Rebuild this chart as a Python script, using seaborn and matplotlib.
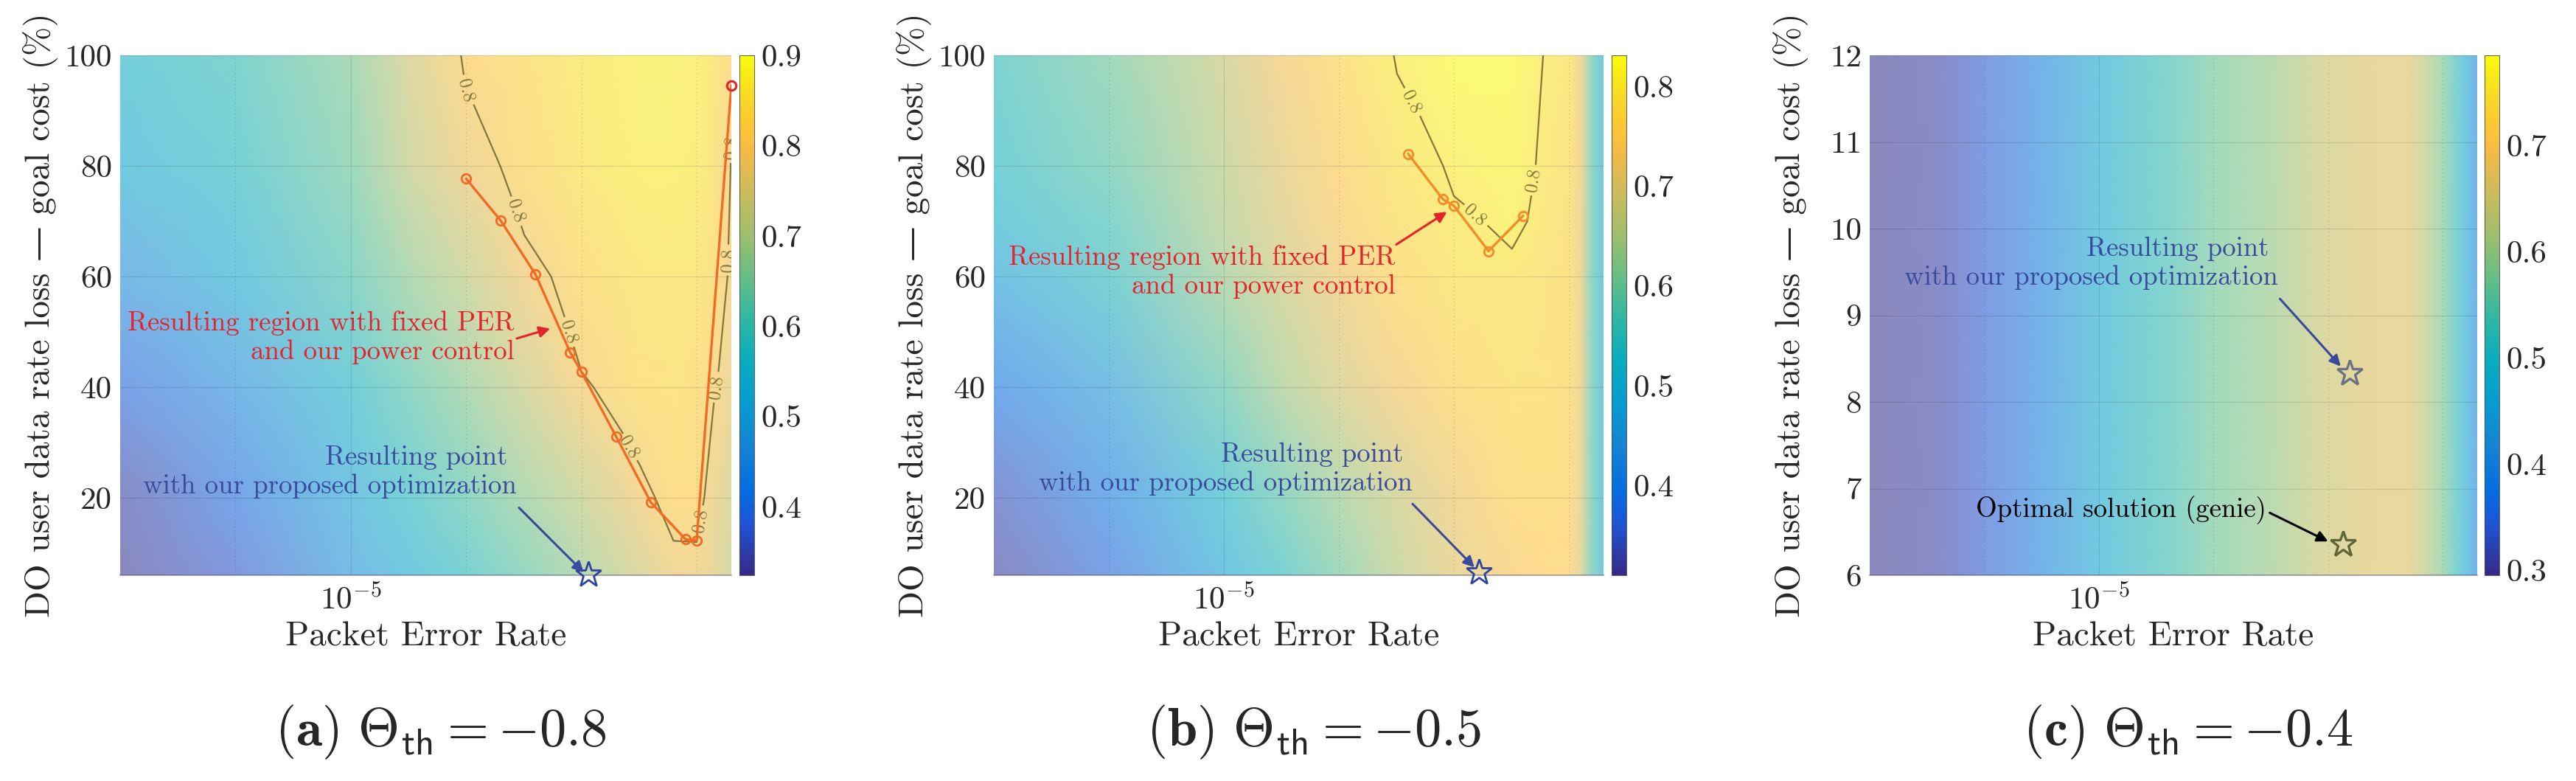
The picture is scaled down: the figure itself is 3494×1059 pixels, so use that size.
import matplotlib
matplotlib.use("Agg")
import matplotlib.pyplot as plt
import numpy as np
import seaborn as sns
from matplotlib.colors import LinearSegmentedColormap, Normalize
from matplotlib.cm import ScalarMappable
from matplotlib.ticker import FixedLocator, FixedFormatter, NullFormatter

# ---------------- data ----------------
# (a) Theta_th = -0.8 : objective value on a PER x loss grid
per_a = [1e-7, 1e-6, 1e-5, 3.2e-5, 1e-4, 3.2e-4, 1e-3, 3.2e-3, 6.3e-3, 1e-2, 1.41e-2, 2e-2]
loss_a = [6, 20, 40, 60, 80, 100]
obj_a = [
    [0.33, 0.37, 0.48, 0.53, 0.58, 0.63, 0.68, 0.74, 0.78, 0.785, 0.76, 0.72],
    [0.34, 0.40, 0.51, 0.57, 0.62, 0.67, 0.72, 0.785, 0.825, 0.82, 0.77, 0.74],
    [0.39, 0.46, 0.56, 0.62, 0.67, 0.73, 0.795, 0.835, 0.84, 0.83, 0.805, 0.77],
    [0.47, 0.53, 0.61, 0.67, 0.72, 0.785, 0.83, 0.85, 0.855, 0.85, 0.83, 0.79],
    [0.53, 0.57, 0.64, 0.72, 0.78, 0.825, 0.855, 0.87, 0.87, 0.865, 0.84, 0.798],
    [0.56, 0.59, 0.66, 0.74, 0.81, 0.835, 0.86, 0.875, 0.875, 0.87, 0.85, 0.81],
]
curve_per_a = [1e-4, 2e-4, 4e-4, 8e-4, 1e-3, 2e-3, 4e-3, 8e-3, 1e-2, 2e-2]
curve_loss_a = [77.7, 70.1, 60.4, 46.3, 42.8, 31.1, 19.2, 12.5, 12.3, 94.6]
star_a = (1.15e-3, 6.2)

# (b) Theta_th = -0.5
per_b = [1e-7, 1e-6, 1e-5, 3.2e-5, 1e-4, 3.2e-4, 1e-3, 3.2e-3, 6.3e-3, 1e-2, 1.26e-2, 1.58e-2, 2e-2]
loss_b = [6, 20, 40, 60, 70, 80, 100]
obj_b = [
    [0.32, 0.37, 0.48, 0.54, 0.60, 0.66, 0.71, 0.74, 0.75, 0.75, 0.70, 0.58, 0.49],
    [0.34, 0.40, 0.52, 0.58, 0.63, 0.68, 0.725, 0.76, 0.765, 0.76, 0.71, 0.58, 0.49],
    [0.39, 0.46, 0.58, 0.64, 0.69, 0.73, 0.76, 0.78, 0.775, 0.765, 0.72, 0.58, 0.49],
    [0.47, 0.54, 0.63, 0.68, 0.725, 0.765, 0.785, 0.79, 0.78, 0.77, 0.72, 0.58, 0.49],
    [0.51, 0.56, 0.65, 0.70, 0.745, 0.78, 0.795, 0.81, 0.783, 0.775, 0.725, 0.58, 0.49],
    [0.53, 0.58, 0.66, 0.71, 0.75, 0.785, 0.806, 0.815, 0.791, 0.78, 0.73, 0.58, 0.49],
    [0.55, 0.60, 0.68, 0.73, 0.77, 0.803, 0.825, 0.825, 0.797, 0.785, 0.73, 0.58, 0.49],
]
curve_per_b = [4e-4, 8e-4, 1e-3, 2e-3, 4e-3]
curve_loss_b = [82.2, 74.0, 72.8, 64.6, 71.0]
star_b = (1.65e-3, 6.6)

# (c) Theta_th = -0.4 (objective only varies with PER)
per_c = [1e-7, 4e-7, 1e-6, 3.2e-6, 1e-5, 4e-5, 1e-4, 3.2e-4, 1e-3, 2.5e-3, 5e-3, 6.8e-3,
         1e-2, 1.26e-2, 1.58e-2, 2e-2]
loss_c = [6, 12]
obj_c_row = [0.30, 0.31, 0.34, 0.40, 0.47, 0.53, 0.57, 0.60, 0.65, 0.67, 0.67, 0.63,
             0.58, 0.53, 0.47, 0.40]
obj_c = [obj_c_row, obj_c_row]
star_c = (1.55e-3, 8.33)
genie_c = (1.35e-3, 6.36)

# ---------------- style ----------------
sns.set_theme(style="white")
plt.rcParams["font.family"] = ["cmr10", "DejaVu Serif"]
plt.rcParams["mathtext.fontset"] = "cm"
plt.rcParams["axes.unicode_minus"] = False
plt.rcParams["axes.formatter.use_mathtext"] = True

parula_pos = [0, 6, 10, 16, 21, 26, 31, 36, 41, 46, 51, 54, 58, 63]
parula_rgb = [(0.2081, 0.1663, 0.5292), (0.1253, 0.3242, 0.8303), (0.0165, 0.4266, 0.8786),
              (0.0793, 0.5200, 0.8312), (0.0265, 0.6137, 0.8135), (0.0384, 0.6743, 0.7436),
              (0.1801, 0.7177, 0.6424), (0.3953, 0.7459, 0.5244), (0.6099, 0.7473, 0.4337),
              (0.7858, 0.7356, 0.3633), (0.9450, 0.7261, 0.2886), (0.9990, 0.7653, 0.2164),
              (0.9697, 0.8481, 0.1475), (0.9763, 0.9831, 0.0538)]
parula = LinearSegmentedColormap.from_list(
    "parula", [(p / 63, c) for p, c in zip(parula_pos, parula_rgb)])
# the surface is drawn semi-transparent over white: use a washed-out copy of parula
FADE = 0.57
parula_faded = LinearSegmentedColormap.from_list(
    "parula_faded", [(p / 63, tuple(1 - FADE * (1 - v) for v in c))
                     for p, c in zip(parula_pos, parula_rgb)])

W, H = 3494, 1059
fig = plt.figure(figsize=(W / 100, H / 100), dpi=100)

AX_TOP, AX_BOT = 75, 780
ax_lefts = [163, 1348, 2536]
ax_widths = [829, 827, 824]
cb_lefts = [1003, 2186, 3370]
CB_W = 20

RED = "#E3242B"
BLUE = "#3A4A9C"
CONTOUR = "#6f6530"
TXT = 26.5
TICK = 31
LAB = 34


def make_axes(i):
    b = 1 - AX_BOT / H
    h = (AX_BOT - AX_TOP) / H
    ax = fig.add_axes([ax_lefts[i] / W, b, ax_widths[i] / W, h])
    cax = fig.add_axes([cb_lefts[i] / W, b, CB_W / W, h])
    return ax, cax


def draw_panel(ax, cax, per, loss, obj, clim, cticks, yticks, ylim):
    X, Y = np.meshgrid(per, loss)
    Z = np.array(obj)
    ax.pcolormesh(X, Y, Z, shading="gouraud", cmap=parula_faded, vmin=clim[0], vmax=clim[1],
                  zorder=1, rasterized=True)
    ax.set_xscale("log")
    ax.set_xlim(1e-7, 2e-2)
    ax.set_ylim(*ylim)
    ax.xaxis.set_major_locator(FixedLocator([1e-5]))
    ax.xaxis.set_major_formatter(FixedFormatter([r"$10^{-5}$"]))
    ax.xaxis.set_minor_locator(FixedLocator([1e-6, 1e-4, 1e-3, 1e-2]))
    ax.xaxis.set_minor_formatter(NullFormatter())
    ax.set_yticks(yticks)
    ax.set_yticklabels([str(t) for t in yticks])
    ax.set_axisbelow(False)
    ax.grid(True, which="major", color="k", alpha=0.12, lw=0.9)
    ax.grid(True, which="minor", axis="x", color="k", alpha=0.2, lw=0.9, ls=(0, (1, 3)))
    for s in ax.spines.values():
        s.set_visible(False)
    ax.spines["bottom"].set_visible(True)
    ax.spines["bottom"].set_color("#30305a")
    ax.spines["bottom"].set_alpha(0.45)
    ax.spines["bottom"].set_linewidth(1.2)
    ax.tick_params(axis="both", which="major", direction="in", length=6, width=0.8,
                   labelsize=TICK, color="#333333")
    ax.tick_params(axis="x", which="major", pad=9)
    ax.tick_params(axis="y", which="major", pad=8)
    ax.tick_params(axis="x", which="minor", direction="in", length=3, width=0.6, color="#333333")
    ax.set_xlabel("Packet Error Rate", fontsize=LAB)
    ax.set_ylabel("DO user data rate loss — goal cost (%)", fontsize=LAB)
    ax.xaxis.set_label_coords(0.5, -0.088)
    ax.yaxis.set_label_coords(-0.101, 0.5)

    sm = ScalarMappable(norm=Normalize(*clim), cmap=parula)
    cb = fig.colorbar(sm, cax=cax, ticks=cticks)
    cb.ax.set_yticklabels([f"{t:.1f}" for t in cticks])
    cb.ax.tick_params(direction="in", length=6, width=0.8, labelsize=TICK, pad=7, color="#333333")
    cb.outline.set_linewidth(0.6)
    cb.outline.set_edgecolor("#444444")
    return X, Y, Z


def arrow(ax, tail, head, color):
    ax.annotate("", xy=head, xytext=tail,
                arrowprops=dict(arrowstyle="-|>", color=color, lw=2.2, mutation_scale=22,
                                shrinkA=0, shrinkB=0), zorder=7)


POINT_TXT = "Resulting point \nwith our proposed optimization"
REGION_TXT = "Resulting region with fixed PER\nand our power control"

# ---------------- (a) ----------------
ax, cax = make_axes(0)
X, Y, Z = draw_panel(ax, cax, per_a, loss_a, obj_a, (0.324, 0.9),
                     [0.4, 0.5, 0.6, 0.7, 0.8, 0.9], [20, 40, 60, 80, 100], (6, 100))
cs = ax.contour(X, Y, Z, levels=[0.8], colors=CONTOUR, linewidths=1.6, alpha=0.85, zorder=3)
ax.clabel(cs, fmt="%.1f", fontsize=18, inline=True,
          manual=[(1e-4, 93.7), (2.6e-4, 71.7), (7.8e-4, 50), (2.5e-3, 29),
                  (9.8e-3, 16), (1.48e-2, 40), (1.82e-2, 63), (1.9e-2, 87)])
sns.lineplot(x=curve_per_a, y=curve_loss_a, ax=ax, sort=False, color="#F26B24", lw=2.4,
             marker="o", markersize=9, markerfacecolor="none", markeredgecolor="#F26B24",
             markeredgewidth=2, zorder=5)
ax.plot([curve_per_a[-1]], [curve_loss_a[-1]], "o", ms=9, mfc="none", mec=RED, mew=2.2,
        zorder=6, clip_on=False)
ax.plot(*star_a, marker="*", ms=26, mfc="none", mec="#2E45A0", mew=2, zorder=6, clip_on=False)
ax.text(2.63e-4, 48.95, REGION_TXT, color=RED,
        fontsize=TXT, ha="right", va="center", multialignment="right", zorder=7)
arrow(ax, (2.75e-4, 48.8), (5.37e-4, 50.6), RED)
ax.text(2.75e-4, 24.7, POINT_TXT, color=BLUE,
        fontsize=TXT, ha="right", va="center", multialignment="right", zorder=7)
arrow(ax, (2.88e-4, 18.2), (1.05e-3, 6.5), BLUE)

# ---------------- (b) ----------------
ax, cax = make_axes(1)
X, Y, Z = draw_panel(ax, cax, per_b, loss_b, obj_b, (0.31, 0.831),
                     [0.4, 0.5, 0.6, 0.7, 0.8], [20, 40, 60, 80, 100], (6, 100))
cs = ax.contour(X, Y, Z, levels=[0.8], colors=CONTOUR, linewidths=1.6, alpha=0.85, zorder=3)
ax.clabel(cs, fmt="%.1f", fontsize=18, inline=True,
          manual=[(4.2e-4, 91.5), (1.4e-3, 70.3), (4.6e-3, 77.5)])
sns.lineplot(x=curve_per_b, y=curve_loss_b, ax=ax, sort=False, color="#F28C28", lw=2.4,
             marker="o", markersize=9, markerfacecolor="none", markeredgecolor="#F28C28",
             markeredgewidth=2, zorder=5)
ax.plot(*star_b, marker="*", ms=26, mfc="none", mec="#2E45A0", mew=2, zorder=6, clip_on=False)
ax.text(3.09e-4, 60.85, REGION_TXT, color=RED,
        fontsize=TXT, ha="right", va="center", multialignment="right", zorder=7)
arrow(ax, (3.16e-4, 65.8), (8.7e-4, 71.7), RED)
ax.text(4.37e-4, 25.2, POINT_TXT, color=BLUE,
        fontsize=TXT, ha="right", va="center", multialignment="right", zorder=7)
arrow(ax, (4.37e-4, 18.9), (1.51e-3, 7.4), BLUE)

# ---------------- (c) ----------------
ax, cax = make_axes(2)
draw_panel(ax, cax, per_c, loss_c, obj_c, (0.295, 0.785),
           [0.3, 0.4, 0.5, 0.6, 0.7], [6, 7, 8, 9, 10, 11, 12], (6, 12))
ax.plot(*star_c, marker="*", ms=26, mfc="none", mec="#55607f", mew=2.4, alpha=0.85, zorder=6)
ax.plot(*genie_c, marker="*", ms=26, mfc="none", mec="#4a5228", mew=2.4, alpha=0.85, zorder=6)
ax.text(3.63e-4, 9.6, POINT_TXT, color=BLUE,
        fontsize=TXT, ha="right", va="center", multialignment="right", zorder=7)
arrow(ax, (3.8e-4, 9.19), (1.29e-3, 8.41), BLUE)
ax.text(2.88e-4, 6.75, "Optimal solution (genie)", color="black",
        fontsize=TXT, ha="right", va="center", zorder=7)
arrow(ax, (3.1e-4, 6.72), (1.0e-3, 6.39), "black")

# ---------------- captions ----------------
captions = [r"$(\mathbf{a})\ \Theta_{\mathsf{th}} = -0.8$",
            r"$(\mathbf{b})\ \Theta_{\mathsf{th}} = -0.5$",
            r"$(\mathbf{c})\ \Theta_{\mathsf{th}} = -0.4$"]
for i, cap in enumerate(captions):
    cx = (ax_lefts[i] + ax_widths[i] / 2 + 20) / W
    fig.text(cx, 1 - 993 / H, cap, fontsize=52, ha="center", va="center")

fig.savefig("out.png", dpi=100)
